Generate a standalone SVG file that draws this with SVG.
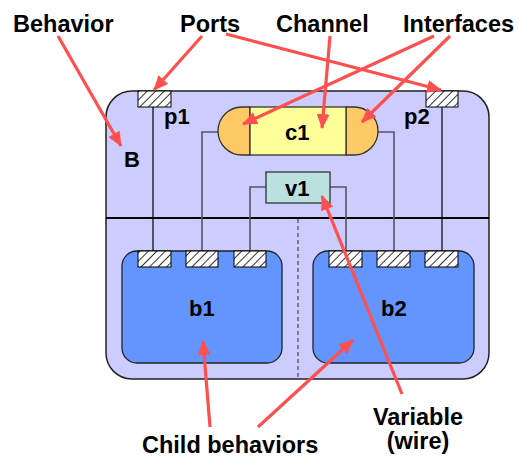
<svg xmlns="http://www.w3.org/2000/svg" width="518" height="457" viewBox="0 0 518 457">
  <style>
    .lbl { font-family: "Liberation Sans", Arial, sans-serif; font-weight: bold; font-size: 23.5px; fill: #000; }
    .nm { font-family: "Liberation Sans", Arial, sans-serif; font-weight: bold; font-size: 22px; fill: #000; }
    .port { fill: url(#hatch); stroke: #000; stroke-width: 1; }
    .wire { fill: none; stroke: #555566; stroke-width: 1.6; }
    .pwire { fill: none; stroke: #000; stroke-width: 1.2; }
    .call { fill: none; stroke: #ff5050; stroke-width: 3.2; marker-end: url(#head); }
  </style>
  <defs>
    <pattern id="hatch" patternUnits="userSpaceOnUse" width="6" height="6" patternTransform="rotate(45)">
      <rect width="6" height="6" fill="#ffffff"/>
      <line x1="0" y1="0" x2="0" y2="6" stroke="#333" stroke-width="2"/>
    </pattern>
    <marker id="head" markerUnits="userSpaceOnUse" markerWidth="15" markerHeight="13" refX="14" refY="6.5" orient="auto">
      <path d="M0,0 L15,6.5 L0,13 Z" fill="#ff5050"/>
    </marker>
  </defs>

  <!-- parent behaviour B -->
  <g id="B">
    <rect x="106" y="91" width="383" height="288" rx="26" ry="26" fill="#ccccff" stroke="#222" stroke-width="1.5"/>
    <line x1="106" y1="218" x2="489" y2="218" stroke="#000" stroke-width="2.2"/>
    <line x1="298" y1="219" x2="298" y2="378" stroke="#555" stroke-width="1.3" stroke-dasharray="4,3"/>
    <text class="nm" x="124" y="167">B</text>
  </g>

  <!-- wires between ports, channel and variable -->
  <g id="wires">
    <path class="pwire" d="M153,107 V251"/>
    <path class="pwire" d="M442,107 V251"/>
    <path class="wire" d="M218,132 H202 V251"/>
    <path class="wire" d="M378,132 H394 V251"/>
    <path class="wire" d="M266,187 H250 V251"/>
    <path class="wire" d="M330,187 H346 V251"/>
  </g>

  <g id="p1">
    <rect class="port" x="138" y="91" width="33" height="16"/>
    <text class="nm" x="164" y="124">p1</text>
  </g>
  <g id="p2">
    <rect class="port" x="426" y="91" width="32" height="16"/>
    <text class="nm" x="404" y="124">p2</text>
  </g>

  <!-- channel c1 with its two interfaces -->
  <g id="c1">
    <path d="M250,107 H242 A24,24 0 0 0 242,155 H250 Z" fill="#ffc966" stroke="#333" stroke-width="1.3"/>
    <path d="M346,107 H354 A24,24 0 0 1 354,155 H346 Z" fill="#ffc966" stroke="#333" stroke-width="1.3"/>
    <rect x="250" y="107" width="96" height="48" fill="#ffff99" stroke="#333" stroke-width="1.3"/>
    <text class="nm" x="285" y="140">c1</text>
  </g>

  <g id="v1">
    <rect x="266" y="172" width="64" height="31" fill="#bbe0e0" stroke="#333" stroke-width="1.3"/>
    <text class="nm" x="285" y="196">v1</text>
  </g>

  <g id="b1">
    <rect x="122" y="251" width="160" height="112" rx="15" ry="15" fill="#6495ff" stroke="#222" stroke-width="1.3"/>
    <rect class="port" x="138" y="251" width="33" height="16"/>
    <rect class="port" x="186" y="251" width="32" height="16"/>
    <rect class="port" x="234" y="251" width="32" height="16"/>
    <text class="nm" x="189" y="316">b1</text>
  </g>

  <g id="b2">
    <rect x="313" y="251" width="161" height="112" rx="15" ry="15" fill="#6495ff" stroke="#222" stroke-width="1.3"/>
    <rect class="port" x="329" y="251" width="33" height="16"/>
    <rect class="port" x="377" y="251" width="33" height="16"/>
    <rect class="port" x="425" y="251" width="33" height="16"/>
    <text class="nm" x="381" y="316">b2</text>
  </g>

  <!-- callout labels -->
  <g id="labels">
    <text class="lbl" x="13" y="32">Behavior</text>
    <text class="lbl" x="180" y="32">Ports</text>
    <text class="lbl" x="276" y="32">Channel</text>
    <text class="lbl" x="403" y="32">Interfaces</text>
    <text class="lbl" x="142" y="453">Child behaviors</text>
    <text class="lbl" x="418" y="425" text-anchor="middle">Variable</text>
    <text class="lbl" x="418" y="449" text-anchor="middle">(wire)</text>
  </g>

  <!-- callout arrows -->
  <g id="connectors">
    <line class="call" x1="58" y1="36" x2="121" y2="146"/>
    <line class="call" x1="202" y1="36" x2="154" y2="90"/>
    <line class="call" x1="226" y1="34" x2="441" y2="90"/>
    <line class="call" x1="330" y1="36" x2="322" y2="128"/>
    <line class="call" x1="434" y1="36" x2="243" y2="124"/>
    <line class="call" x1="450" y1="36" x2="362" y2="122"/>
    <line class="call" x1="210" y1="427" x2="203" y2="341"/>
    <line class="call" x1="258" y1="427" x2="353" y2="340"/>
    <line class="call" x1="402" y1="394" x2="322" y2="196"/>
  </g>
</svg>
